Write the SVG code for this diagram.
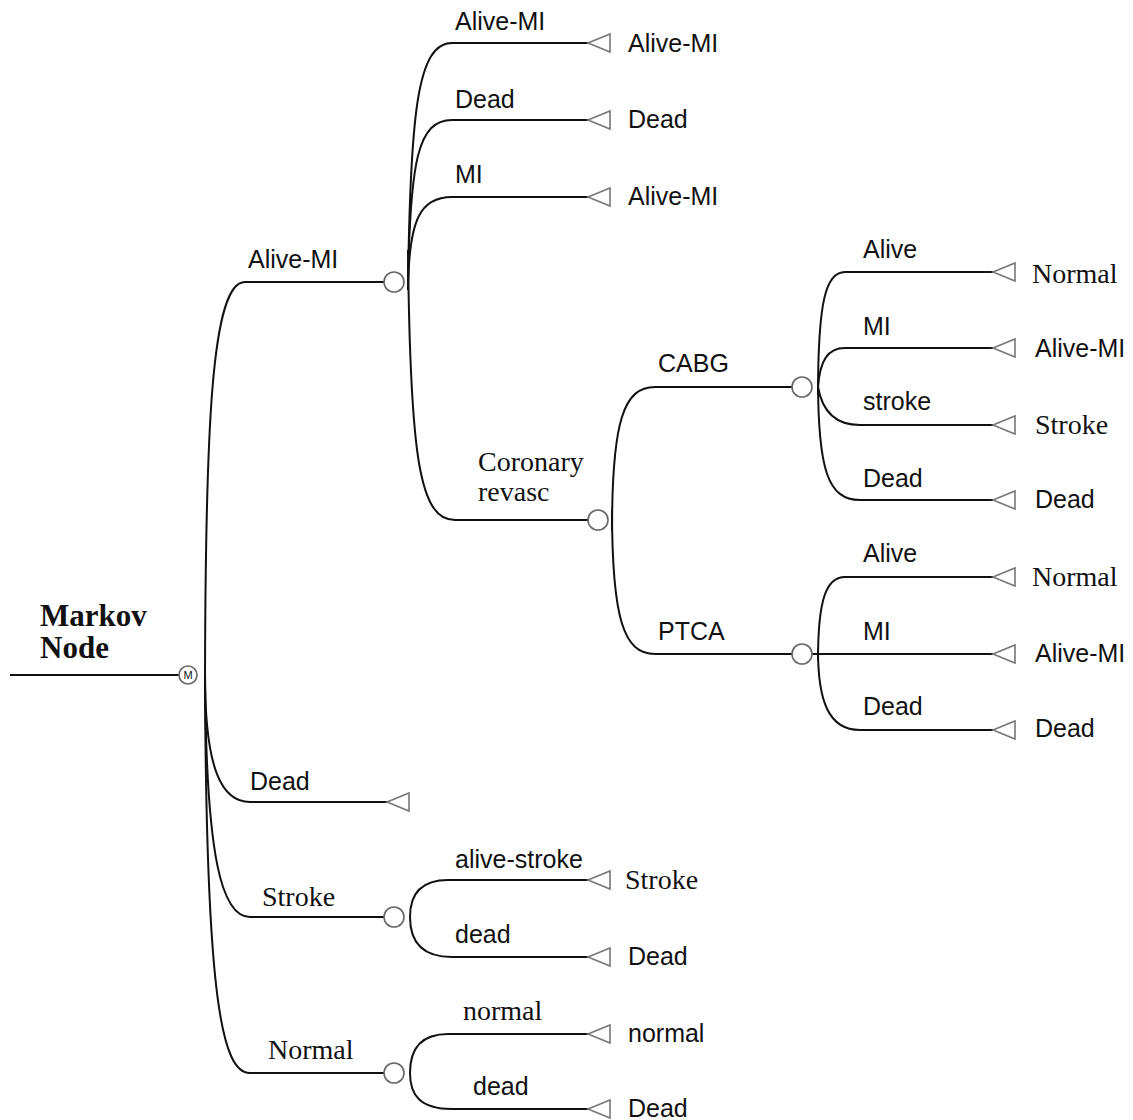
<svg xmlns="http://www.w3.org/2000/svg" width="1133" height="1120" viewBox="0 0 1133 1120">
<defs>
<style>
.ln{fill:none;stroke:#111;stroke-width:2}
.nd{fill:#fff;stroke:#666;stroke-width:1.6}
.tm{fill:#fff;stroke:#777;stroke-width:1.6}
.s{font-family:"Liberation Sans",Arial,sans-serif;font-size:25px;fill:#111}
.r{font-family:"Liberation Serif","Times New Roman",serif;font-size:28px;fill:#111}
.b{font-family:"Liberation Serif","Times New Roman",serif;font-size:31px;font-weight:bold;fill:#111}
</style>
<polygon id="tri" points="0,0 22,-9 22,9"/>
</defs>
<rect width="1133" height="1120" fill="#fff"/>
<g id="connectors">
<path class="ln" d="M10,675 H179"/>
<path class="ln" d="M205,700 C205,420 212,282 245,282 H384"/>
<path class="ln" d="M205,675 C205,770 222,802 250,802 H387"/>
<path class="ln" d="M205,675 C206,860 222,917 250,917 H384"/>
<path class="ln" d="M205,675 C206,1000 222,1073 250,1073 H384"/>
<path class="ln" d="M408,290 C410,110 418,43 452,43 H588"/>
<path class="ln" d="M408,285 C410,160 418,120 452,120 H588"/>
<path class="ln" d="M408,282 C410,220 420,197 452,197 H588"/>
<path class="ln" d="M408,250 C410,460 420,520 455,520 H588"/>
<path class="ln" d="M612,530 C612,420 624,387 655,387 H792"/>
<path class="ln" d="M612,510 C612,620 624,654 655,654 H792"/>
<path class="ln" d="M818,395 C818,300 826,272 845,272 H993"/>
<path class="ln" d="M818,387 C820,360 828,348 845,348 H993"/>
<path class="ln" d="M818,387 C822,410 835,425 860,425 H993"/>
<path class="ln" d="M818,380 C818,470 828,500 860,500 H993"/>
<path class="ln" d="M818,660 C818,600 826,577 845,577 H993"/>
<path class="ln" d="M812,654 H993"/>
<path class="ln" d="M818,650 C818,700 828,730 860,730 H993"/>
<path class="ln" d="M410,917 C410,895 420,880 448,880 H588"/>
<path class="ln" d="M410,917 C410,940 420,957 452,957 H588"/>
<path class="ln" d="M410,1073 C410,1050 420,1034 448,1034 H588"/>
<path class="ln" d="M410,1073 C410,1095 420,1109 452,1109 H588"/>
</g>
<g id="markov">
<circle class="nd" cx="188" cy="675" r="9"/>
<text x="188" y="679" text-anchor="middle" font-family="Liberation Sans,sans-serif" font-size="11" fill="#111">M</text>
<text class="b" x="40" y="626">Markov</text>
<text class="b" x="40" y="658">Node</text>
</g>
<g id="alive-mi"><circle class="nd" cx="394" cy="282" r="10"/><text class="s" x="248" y="268">Alive-MI</text></g>
<g id="dead"><use href="#tri" class="tm" x="387" y="802"/><text class="s" x="250" y="790">Dead</text></g>
<g id="stroke"><circle class="nd" cx="394" cy="917" r="10"/><text class="r" x="262" y="906">Stroke</text></g>
<g id="normal"><circle class="nd" cx="394" cy="1073" r="10"/><text class="r" x="268" y="1059">Normal</text></g>
<g id="ami-alive"><text class="s" x="455" y="30">Alive-MI</text><use href="#tri" class="tm" x="588" y="43"/><text class="s" x="628" y="52">Alive-MI</text></g>
<g id="ami-dead"><text class="s" x="455" y="108">Dead</text><use href="#tri" class="tm" x="588" y="120"/><text class="s" x="628" y="128">Dead</text></g>
<g id="ami-mi"><text class="s" x="455" y="183">MI</text><use href="#tri" class="tm" x="588" y="197"/><text class="s" x="628" y="205">Alive-MI</text></g>
<g id="coronary"><circle class="nd" cx="598" cy="520" r="10"/><text class="r" x="478" y="471">Coronary</text><text class="r" x="478" y="501">revasc</text></g>
<g id="cabg"><circle class="nd" cx="802" cy="387" r="10"/><text class="s" x="658" y="372">CABG</text></g>
<g id="ptca"><circle class="nd" cx="802" cy="654" r="10"/><text class="s" x="658" y="640">PTCA</text></g>
<g id="cabg-alive"><text class="s" x="863" y="258">Alive</text><use href="#tri" class="tm" x="993" y="272"/><text class="r" x="1032" y="283">Normal</text></g>
<g id="cabg-mi"><text class="s" x="863" y="335">MI</text><use href="#tri" class="tm" x="993" y="348"/><text class="s" x="1035" y="357">Alive-MI</text></g>
<g id="cabg-stroke"><text class="s" x="863" y="410">stroke</text><use href="#tri" class="tm" x="993" y="425"/><text class="r" x="1035" y="434">Stroke</text></g>
<g id="cabg-dead"><text class="s" x="863" y="487">Dead</text><use href="#tri" class="tm" x="993" y="500"/><text class="s" x="1035" y="508">Dead</text></g>
<g id="ptca-alive"><text class="s" x="863" y="562">Alive</text><use href="#tri" class="tm" x="993" y="577"/><text class="r" x="1032" y="586">Normal</text></g>
<g id="ptca-mi"><text class="s" x="863" y="640">MI</text><use href="#tri" class="tm" x="993" y="654"/><text class="s" x="1035" y="662">Alive-MI</text></g>
<g id="ptca-dead"><text class="s" x="863" y="715">Dead</text><use href="#tri" class="tm" x="993" y="730"/><text class="s" x="1035" y="737">Dead</text></g>
<g id="stroke-alive"><text class="s" x="455" y="868">alive-stroke</text><use href="#tri" class="tm" x="588" y="880"/><text class="r" x="625" y="889">Stroke</text></g>
<g id="stroke-dead"><text class="s" x="455" y="943">dead</text><use href="#tri" class="tm" x="588" y="957"/><text class="s" x="628" y="965">Dead</text></g>
<g id="normal-normal"><text class="r" x="463" y="1020">normal</text><use href="#tri" class="tm" x="588" y="1034"/><text class="s" x="628" y="1042">normal</text></g>
<g id="normal-dead"><text class="s" x="473" y="1095">dead</text><use href="#tri" class="tm" x="588" y="1109"/><text class="s" x="628" y="1117">Dead</text></g>
</svg>
